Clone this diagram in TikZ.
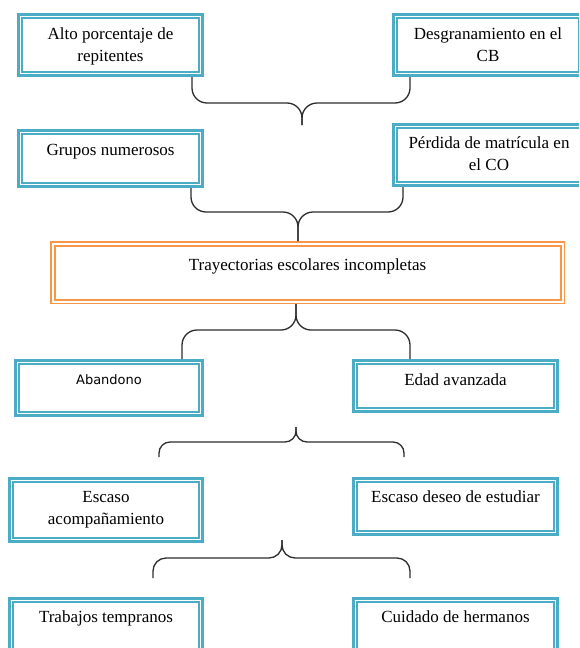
\documentclass[tikz,border=0pt]{standalone}
\usepackage{fontspec}
\setmainfont{Liberation Serif}
\newfontfamily\sansabandono{DejaVu Sans}
\usepackage{xcolor}
\usepackage{tikz}
\definecolor{azulcaja}{RGB}{75,172,198}
\definecolor{naranjacaja}{RGB}{247,150,70}
\definecolor{grisllave}{RGB}{45,45,45}

\begin{document}
\begin{tikzpicture}[x=1pt,y=-1pt,
	caja/.style={draw=azulcaja,line width=3pt,fill=white,anchor=north west,align=center,
		inner ysep=0pt,text height=25pt,font=\fontsize{17}{22}\selectfont,
		path picture={\draw[azulcaja,line width=1.5pt]
			([shift={(3.6pt,-3.6pt)}]path picture bounding box.north west) rectangle
			([shift={(-3.6pt,3.6pt)}]path picture bounding box.south east);}},
	cajacentral/.style={draw=naranjacaja,line width=1.5pt,fill=white,anchor=north west,align=center,
		inner ysep=0pt,text height=28.5pt,font=\fontsize{17}{22}\selectfont,
		path picture={\draw[naranjacaja,line width=2pt]
			([shift={(3.75pt,-3.75pt)}]path picture bounding box.north west) rectangle
			([shift={(-3.75pt,3.75pt)}]path picture bounding box.south east);}},
	llave/.style={draw=grisllave,line width=1.3pt,rounded corners=15pt}]
	\useasboundingbox (0,0) rectangle (579,648);
	\clip (0,0) rectangle (579,648);

	\node[caja,minimum width=184pt,text height=47pt,text depth=14pt] (alto) at (17,13) {Alto porcentaje de\\repitentes};
	\node[caja,minimum width=189pt,text height=47pt,text depth=14pt] (desgranamiento) at (392,13) {Desgranamiento en el\\CB};
	\node[caja,minimum width=184pt,text depth=31pt] (grupos) at (17,129) {Grupos numerosos};
	\node[caja,minimum width=191pt,text height=46pt,text depth=15pt] (perdida) at (392,123) {P\'erdida de matr\'icula en\\el CO};
	\node[cajacentral,minimum width=513.5pt,text depth=33pt] (trayectorias) at (50,241) {Trayectorias escolares incompletas};
	\node[caja,minimum width=187pt,text height=23.5pt,text depth=31.5pt,font=\sansabandono\fontsize{13}{16}\selectfont] (abandono) at (14,359) {Abandono};
	\node[caja,minimum width=204pt,text depth=26pt] (edad) at (352,359) {Edad avanzada};
	\node[caja,minimum width=193pt,text height=46pt,text depth=17pt] (acompanamiento) at (8,477) {Escaso\\acompa\~namiento};
	\node[caja,minimum width=204pt,text height=24pt,text depth=32pt] (deseo) at (352,477) {Escaso deseo de estudiar};
	\node[caja,minimum width=193pt,text height=24pt,text depth=46pt] (trabajos) at (8,597) {Trabajos tempranos};
	\node[caja,minimum width=204pt,text height=24pt,text depth=46pt] (hermanos) at (352,597) {Cuidado de hermanos};

	\coordinate (punta1) at (302,125);
	\coordinate (punta4) at (296,427);
	\coordinate (fin4a) at (159,457);
	\coordinate (fin4b) at (404,457);
	\coordinate (punta5) at (282,540);
	\coordinate (fin5a) at (153,578);
	\coordinate (fin5b) at (410,578);

	\draw[llave] (192,0 |- alto.south) |- (punta1 |- 0,103) -- (punta1);
	\draw[llave] (410,0 |- desgranamiento.south) |- (punta1 |- 0,103) -- (punta1);
	\draw[llave] (191,0 |- grupos.south) |- (298,212) -- (298,0 |- trayectorias.north);
	\draw[llave] (403,0 |- perdida.south) |- (298,212) -- (298,0 |- trayectorias.north);
	\draw[llave] (296,0 |- trayectorias.south) |- (182,330) -- (182,0 |- abandono.north);
	\draw[llave] (296,0 |- trayectorias.south) |- (410,330) -- (410,0 |- edad.north);
	\draw[llave,rounded corners=11pt] (punta4) |- (fin4a |- 0,442) -- (fin4a);
	\draw[llave,rounded corners=11pt] (punta4) |- (fin4b |- 0,442) -- (fin4b);
	\draw[llave,rounded corners=13pt] (punta5) |- (fin5a |- 0,558) -- (fin5a);
	\draw[llave,rounded corners=13pt] (punta5) |- (fin5b |- 0,558) -- (fin5b);
\end{tikzpicture}
\end{document}
